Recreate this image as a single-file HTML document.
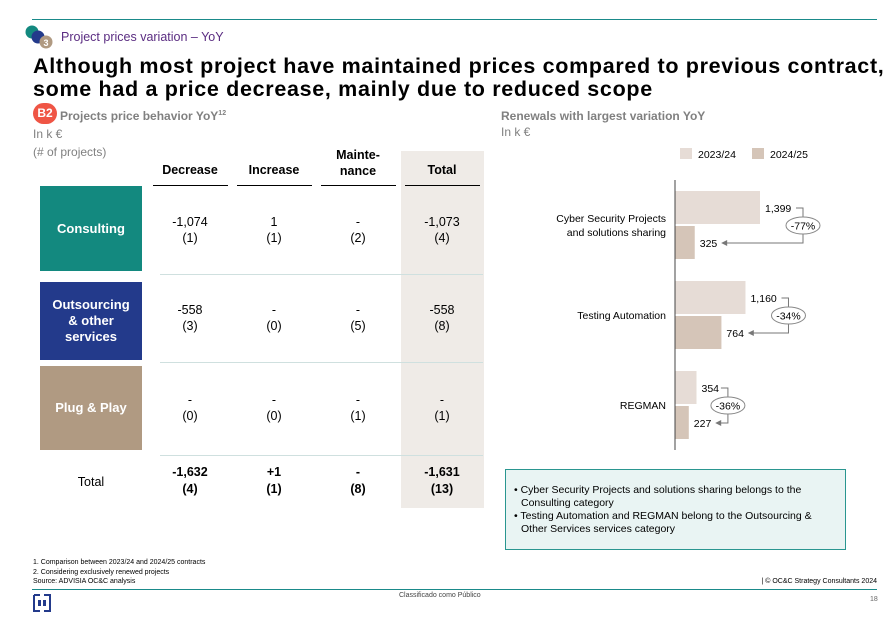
<!DOCTYPE html>
<html><head><meta charset="utf-8"><style>
*{margin:0;padding:0;box-sizing:border-box}
body{width:893px;height:618px;position:relative;background:#fff;font-family:"Liberation Sans",Arial,sans-serif;overflow:hidden;color:#000}
.a{position:absolute;white-space:nowrap}
.c{text-align:center}
.v{position:absolute;text-align:center;font-size:12.5px;line-height:16px;width:80px}
.box{position:absolute;left:40px;width:102px;color:#fff;font-weight:bold;font-size:13px;display:flex;align-items:center;justify-content:center;text-align:center;line-height:16px}
.ul{position:absolute;top:185px;height:1.3px;background:#000;width:75px}
.sep{position:absolute;left:160px;width:323px;height:1px;background:#cfe0df}
</style></head><body>
<div class="a" style="left:32px;top:19px;width:845px;height:1px;background:#1a8a8a"></div>
<svg class="a" style="left:24px;top:24px" width="34" height="28">
<circle cx="8" cy="8" r="6.5" fill="#13897f"/><circle cx="14" cy="13" r="6.5" fill="#233a8b"/><circle cx="22" cy="18" r="6.5" fill="#b09a82"/>
<text x="22" y="22" font-size="9" fill="#fff" text-anchor="middle" font-family="Liberation Sans" font-weight="bold">3</text></svg>
<div class="a" style="left:61px;top:30px;font-size:12.5px;color:#5b2d82">Project prices variation – YoY</div>
<div class="a" style="left:33px;top:55px;font-size:21.5px;letter-spacing:0.68px;font-weight:bold;line-height:23px">Although most project have maintained prices compared to previous contract,<br>some had a price decrease, mainly due to reduced scope</div>
<div class="a" style="left:33px;top:103px;width:24px;height:21px;border-radius:11px;background:#ef5545;color:#fff;font-weight:bold;font-size:12px;line-height:21px;text-align:center">B2</div>
<div class="a" style="left:60px;top:109px;font-size:12px;font-weight:bold;color:#808080">Projects price behavior YoY<sup style="font-size:7px">12</sup></div>
<div class="a" style="left:33px;top:125px;font-size:12px;color:#808080;line-height:18px">In k €<br>(# of projects)</div>

<div class="a" style="left:401px;top:151px;width:83px;height:357px;background:#efebe7"></div>
<div class="a c" style="left:150px;top:163px;width:80px;font-size:12.5px;font-weight:bold">Decrease</div>
<div class="a c" style="left:234px;top:163px;width:80px;font-size:12.5px;font-weight:bold">Increase</div>
<div class="a c" style="left:318px;top:147px;width:80px;font-size:12.5px;font-weight:bold;line-height:16px">Mainte-<br>nance</div>
<div class="a c" style="left:402px;top:163px;width:80px;font-size:12.5px;font-weight:bold">Total</div>
<div class="ul" style="left:153px"></div>
<div class="ul" style="left:237px"></div>
<div class="ul" style="left:321px"></div>
<div class="ul" style="left:405px"></div>

<div class="box" style="top:186px;height:85px;background:#13897f">Consulting</div>
<div class="box" style="top:282px;height:78px;background:#233a8b">Outsourcing<br>&amp; other<br>services</div>
<div class="box" style="top:366px;height:84px;background:#b09a82">Plug &amp; Play</div>
<div class="a c" style="left:40px;top:475px;width:102px;font-size:12.5px">Total</div>
<div class="sep" style="top:274px"></div>
<div class="sep" style="top:362px"></div>
<div class="sep" style="top:455px"></div>

<div class="v" style="left:150px;top:214px">-1,074<br>(1)</div>
<div class="v" style="left:234px;top:214px">1<br>(1)</div>
<div class="v" style="left:318px;top:214px">-<br>(2)</div>
<div class="v" style="left:402px;top:214px">-1,073<br>(4)</div>
<div class="v" style="left:150px;top:302px">-558<br>(3)</div>
<div class="v" style="left:234px;top:302px">-<br>(0)</div>
<div class="v" style="left:318px;top:302px">-<br>(5)</div>
<div class="v" style="left:402px;top:302px">-558<br>(8)</div>
<div class="v" style="left:150px;top:392px">-<br>(0)</div>
<div class="v" style="left:234px;top:392px">-<br>(0)</div>
<div class="v" style="left:318px;top:392px">-<br>(1)</div>
<div class="v" style="left:402px;top:392px">-<br>(1)</div>
<div class="v" style="left:150px;top:464px;font-weight:bold;line-height:17px">-1,632<br>(4)</div>
<div class="v" style="left:234px;top:464px;font-weight:bold;line-height:17px">+1<br>(1)</div>
<div class="v" style="left:318px;top:464px;font-weight:bold;line-height:17px">-<br>(8)</div>
<div class="v" style="left:402px;top:464px;font-weight:bold;line-height:17px">-1,631<br>(13)</div>

<div class="a" style="left:501px;top:109px;font-size:12px;font-weight:bold;color:#808080">Renewals with largest variation YoY</div>
<div class="a" style="left:501px;top:125px;font-size:12px;color:#808080">In k €</div>

<svg class="a" id="chart" style="left:0;top:0" width="893" height="618" font-family="Liberation Sans, Arial, sans-serif"></svg>

<div class="a" style="left:505px;top:469px;width:341px;height:81px;background:#e9f4f3;border:1px solid #2a9690;padding:14px 14px 0 8px;font-size:10.5px;line-height:13px;white-space:normal">
<div style="padding-left:7px;text-indent:-7px">• Cyber Security Projects and solutions sharing belongs to the Consulting category</div>
<div style="padding-left:7px;text-indent:-7px">• Testing Automation and REGMAN belong to the Outsourcing &amp; Other Services services category</div></div>

<div class="a" style="left:33px;top:558px;font-size:7px;line-height:9.5px">1. Comparison between 2023/24 and 2024/25 contracts<br>2. Considering exclusively renewed projects<br>Source: ADVISIA OC&amp;C analysis</div>
<div class="a" style="right:16px;top:578px;font-size:7px">| © OC&amp;C Strategy Consultants 2024</div>
<div class="a" style="left:32px;top:589px;width:845px;height:1px;background:#1a8a8a"></div>
<svg class="a" style="left:33px;top:594px" width="18" height="18"><path d="M1 1h6M1 1v16h6M11 1h6v16h-6" stroke="#233a8b" stroke-width="2" fill="none"/><rect x="5" y="6" width="3" height="6" fill="#233a8b"/><rect x="10" y="6" width="3" height="6" fill="#233a8b"/></svg>
<div class="a" style="left:399px;top:592px;font-size:7px;color:#444">Classificado como Público</div>
<div class="a" style="left:870px;top:596px;font-size:7px;color:#666">18</div>

<script>
const categories=["Cyber Security Projects|and solutions sharing","Testing Automation","REGMAN"];
const values2324=[1399,1160,354];
const values2425=[325,764,227];
const changeLabels=["-77%","-34%","-36%"];
const svg=document.getElementById('chart');const NS='http://www.w3.org/2000/svg';
function mk(t,a,p){const e=document.createElementNS(NS,t);for(const k in a)e.setAttribute(k,a[k]);(p||svg).appendChild(e);return e;}
const x0=675,scale=85/1399;
function xs(v){return x0+v*scale;}
const bandTop=[191,281,371],bh=33;
let r=mk('rect',{x:680,y:148,width:12,height:11,fill:'#e6dcd6'});
let t=mk('text',{x:698,y:158,'font-size':10.5});t.textContent='2023/24';
r=mk('rect',{x:752,y:148,width:12,height:11,fill:'#d5c5b8'});
t=mk('text',{x:770,y:158,'font-size':10.5});t.textContent='2024/25';
categories.forEach((c,i)=>{
 const y1=bandTop[i],y2=y1+bh+2;
 let b=mk('rect',{x:x0,y:y1,width:xs(values2324[i])-x0,height:bh,fill:'#e6dcd6'});
 
 b=mk('rect',{x:x0,y:y2,width:xs(values2425[i])-x0,height:bh,fill:'#d5c5b8'});
 
 let l1=mk('text',{x:xs(values2324[i])+5,y:y1+21,'font-size':10.5});l1.textContent=values2324[i].toLocaleString('en-US');
 
 let l2=mk('text',{x:xs(values2425[i])+5,y:y2+21,'font-size':10.5});l2.textContent=values2425[i].toLocaleString('en-US');
 
 const lw1=values2324[i].toLocaleString('en-US').length*5.8,lw2=values2425[i].toLocaleString('en-US').length*5.8;
 const cx=xs(values2324[i])+lw1+14;
 const yA=y1+17,yB=y2+17;
 let p=mk('path',{d:`M${cx-7} ${yA}H${cx}V${yB}H${xs(values2425[i])+lw2+14}`,stroke:'#777',fill:'none','stroke-width':1});
 
 const ax=xs(values2425[i])+lw2+9;
 let ar=mk('path',{d:`M${ax} ${yB}l6 -3v6z`,fill:'#777'});
 const my=(yA+yB)/2;
 let e=mk('ellipse',{cx:cx,cy:my,rx:17,ry:8.5,fill:'#fff',stroke:'#888'});
 let pt=mk('text',{x:cx,y:my+4,'font-size':10.5,'text-anchor':'middle'});pt.textContent=changeLabels[i];
 
 const parts=c.split('|');
 let ct=mk('text',{x:666,'font-size':10.5,'text-anchor':'end'});
 
 const cy=y1+bh+1-(parts.length-1)*7+4;
 parts.forEach((s,j)=>{const ts=mk('tspan',{x:666,y:cy+j*14},ct);ts.textContent=s;});
});
let ax=mk('line',{x1:x0,y1:180,x2:x0,y2:450,stroke:'#444','stroke-width':1});

</script>
</body></html>
